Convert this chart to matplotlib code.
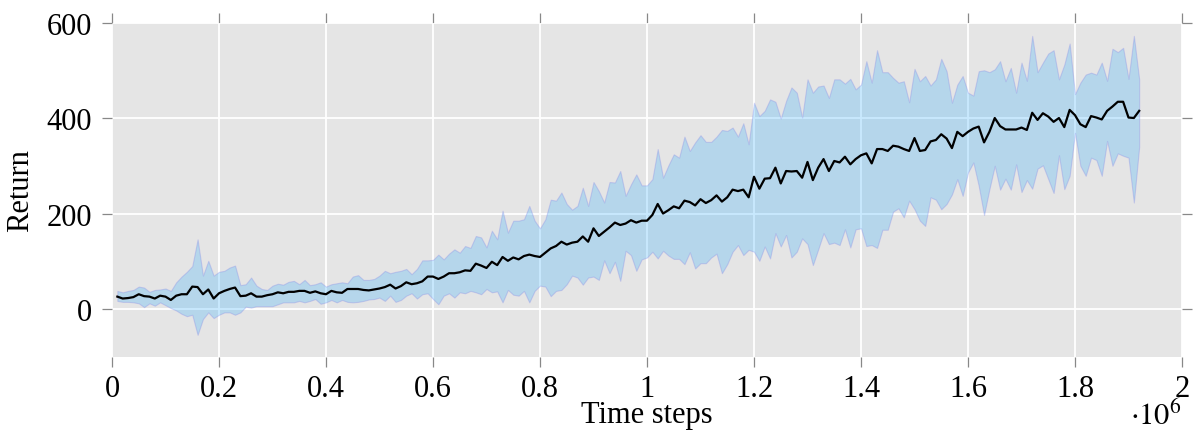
import numpy as np
import matplotlib
matplotlib.use("Agg")
from matplotlib import pyplot as plt
from matplotlib.ticker import FuncFormatter

plt.rcParams['font.family'] = ['Liberation Serif', 'DejaVu Serif']
plt.rcParams['mathtext.fontset'] = 'stix'

# evaluation every 10k steps
steps = np.arange(10000, 1920001, 10000)

mean_return = [
    26, 22, 23, 25, 31, 27, 26, 22, 28, 26,
    19, 28, 31, 31, 47, 46, 31, 41, 22, 33,
    38, 42, 45, 27, 28, 33, 26, 26, 29, 31,
    35, 33, 36, 36, 38, 38, 34, 37, 33, 31,
    38, 35, 34, 42, 42, 42, 40, 39, 41, 43,
    46, 51, 43, 48, 56, 52, 54, 58, 68, 68,
    63, 68, 75, 75, 77, 81, 80, 95, 91, 86,
    99, 92, 109, 101, 108, 104, 111, 114, 111, 109,
    118, 127, 132, 141, 135, 139, 141, 152, 141, 169,
    153, 162, 171, 181, 176, 179, 186, 181, 185, 185,
    197, 220, 200, 207, 215, 211, 227, 224, 217, 230,
    222, 228, 238, 225, 234, 250, 247, 250, 234, 277,
    252, 273, 274, 296, 263, 289, 288, 289, 275, 308,
    270, 296, 314, 289, 310, 307, 319, 303, 314, 322,
    326, 305, 335, 335, 331, 342, 340, 335, 331, 358,
    331, 333, 351, 354, 366, 357, 337, 371, 362, 371,
    378, 382, 349, 371, 400, 383, 376, 376, 376, 380,
    375, 411, 396, 410, 403, 392, 400, 381, 417, 406,
    387, 381, 404, 401, 397, 415, 424, 434, 434, 401,
    400, 415,
]

upper_return = [
    38, 35, 38, 40, 47, 45, 36, 40, 41, 43,
    38, 56, 68, 78, 90, 146, 70, 101, 70, 78,
    80, 87, 91, 50, 52, 66, 49, 42, 40, 49,
    53, 51, 57, 59, 52, 61, 50, 52, 56, 47,
    52, 54, 56, 54, 68, 71, 61, 61, 63, 70,
    80, 75, 78, 80, 84, 73, 84, 102, 102, 103,
    114, 104, 116, 125, 118, 132, 128, 153, 150, 129,
    164, 146, 206, 160, 185, 185, 188, 216, 185, 169,
    188, 229, 227, 244, 220, 208, 216, 254, 216, 266,
    247, 223, 266, 265, 289, 237, 261, 282, 259, 259,
    272, 335, 275, 301, 324, 317, 361, 331, 349, 364,
    350, 350, 361, 375, 373, 380, 361, 389, 345, 432,
    404, 415, 439, 434, 399, 436, 464, 453, 401, 481,
    453, 466, 468, 442, 481, 481, 472, 482, 460, 470,
    519, 474, 542, 496, 496, 484, 474, 477, 433, 503,
    477, 488, 468, 481, 524, 498, 432, 470, 488, 453,
    447, 498, 500, 496, 502, 519, 477, 505, 453, 516,
    478, 572, 496, 516, 535, 542, 481, 512, 556, 450,
    474, 491, 495, 491, 516, 478, 545, 538, 547, 482,
    572, 481,
]

lower_return = [
    17, 15, 15, 14, 12, 4, 12, 7, 14, 8,
    2, -3, -10, -15, -12, -54, -21, -7, -19, -12,
    -7, -7, -12, -7, 5, 3, 6, 6, 6, 6,
    10, 14, 14, 14, 17, 14, 17, 21, 11, 14,
    19, 14, 19, 15, 14, 15, 17, 20, 21, 24,
    17, 28, 15, 19, 28, 33, 22, 31, 33, 21,
    10, 28, 33, 24, 35, 33, 38, 35, 31, 42,
    35, 37, 14, 40, 30, 28, 38, 14, 38, 49,
    47, 27, 38, 40, 52, 70, 66, 51, 66, 68,
    61, 102, 75, 99, 59, 122, 113, 80, 104, 108,
    120, 106, 122, 112, 105, 105, 94, 119, 85, 96,
    96, 108, 116, 75, 94, 120, 134, 113, 124, 120,
    101, 131, 106, 159, 131, 155, 108, 120, 148, 136,
    92, 125, 159, 136, 139, 134, 167, 129, 167, 169,
    132, 134, 128, 166, 166, 204, 211, 192, 227, 209,
    185, 174, 234, 229, 209, 220, 240, 272, 237, 286,
    307, 258, 197, 251, 300, 250, 273, 250, 303, 245,
    270, 252, 294, 301, 272, 243, 322, 251, 279, 369,
    300, 279, 317, 312, 279, 352, 300, 326, 321, 317,
    223, 340,
]

fig = plt.figure(figsize=(11.94, 4.35), dpi=100)
ax = fig.add_axes([112/1194, 1-357.8/435, 1070/1194, 334.3/435])
ax.set_facecolor('#e5e5e5')
ax.set_axisbelow(True)
ax.grid(True, color='white', linewidth=1.3)

ax.fill_between(steps, lower_return, upper_return,
                facecolor=(0.12, 0.66, 1.0, 0.24),
                edgecolor=(0.5, 0.5, 0.9, 0.3), linewidth=0.8)
ax.plot(steps, mean_return, color='black', linewidth=1.6)

ax.set_xlim(0, 2e6)
ax.set_ylim(-100, 600)
ax.set_xticks(np.arange(0, 2.01e6, 2e5))
ax.set_yticks([0, 200, 400, 600])
ax.xaxis.set_major_formatter(FuncFormatter(lambda v, p: '%g' % (v/1e6)))

for s in ax.spines.values():
    s.set_visible(False)
ax.tick_params(which='both', direction='out', length=7.5, width=0.9,
               color='#888888', labelsize=22, top=True, right=True)
ax.tick_params(axis='x', pad=5)
ax.tick_params(axis='y', pad=7)

ax.set_xlabel('Time steps', fontsize=22, labelpad=-2)
ax.set_ylabel('Return', fontsize=22, labelpad=8)
ax.text(1.0, -0.13, r'$\cdot10^{6}$', transform=ax.transAxes,
        ha='right', va='top', fontsize=22)

fig.savefig('out.png', dpi=100)
